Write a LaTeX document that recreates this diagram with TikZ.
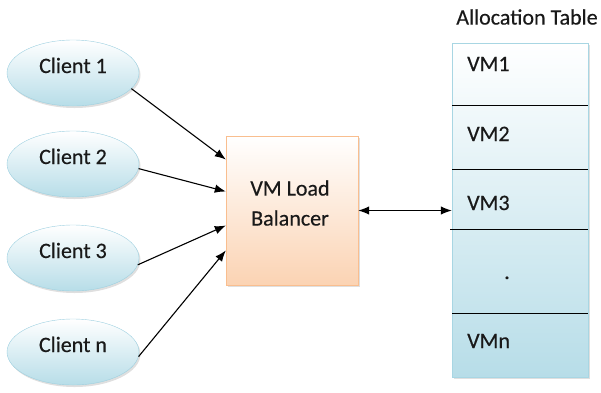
\documentclass[tikz,border=0pt]{standalone}
\usepackage{fontspec}
\setmainfont{Carlito}[FakeBold=0.4]
\usepackage{tikz}
\usetikzlibrary{shapes,arrows,arrows.meta,positioning,shadows}
\definecolor{cliblue}{HTML}{B7DDE8}
\definecolor{cliedge}{HTML}{9DD0E0}
\definecolor{lborange}{HTML}{FBD3B3}
\definecolor{lbedge}{HTML}{F9BE8F}
\definecolor{tabedge}{HTML}{A8D6E3}
\tikzstyle{client} = [ellipse, draw=cliedge, top color=white, bottom color=cliblue, minimum width=132pt, minimum height=66pt, text height=14pt, text depth=14pt, inner sep=0pt, font=\fontsize{22}{26}\selectfont, text=black!90, drop shadow={opacity=0.25, shadow xshift=1.5pt, shadow yshift=-2pt}]
\tikzstyle{lbox} = [rectangle, draw=lbedge, top color=white, bottom color=lborange, minimum width=132pt, minimum height=149pt, drop shadow={opacity=0.25, shadow xshift=1.5pt, shadow yshift=-2pt}]
\tikzstyle{tbox} = [rectangle, draw=tabedge, top color=white, bottom color=cliblue, minimum width=136pt, minimum height=334pt, drop shadow={opacity=0.25, shadow xshift=1.5pt, shadow yshift=-2pt}]
\tikzstyle{txt} = [inner sep=0pt, font=\fontsize{22}{30}\selectfont, text=black!90]
\tikzstyle{vm} = [txt, anchor=base west]
\tikzstyle{arrow} = [draw, line width=1.1pt, -{Latex[length=11pt,width=8.5pt]}]
\tikzstyle{darrow} = [draw, line width=1.1pt, {Latex[length=11pt,width=8.5pt]}-{Latex[length=11pt,width=8.5pt]}]
\tikzstyle{line} = [draw, line width=0.7pt]

\begin{document}
\begin{tikzpicture}[x=1pt, y=-1pt]
	\useasboundingbox (0,0) rectangle (601,392);
	\node [client] (c1) at (73, 73) {Client 1};
	\node [client] (c2) at (73, 164) {Client 2};
	\node [client] (c3) at (73, 258) {Client 3};
	\node [client] (cn) at (73, 352) {Client n};

	\node [lbox] (lb) at (292, 210.5) {};
	\node [txt, align=center] (lbtext) at (290, 203) {VM Load\\Balancer};

	\node [txt] (title) at (527, 17) {Allocation Table};
	\node [tbox] (alloc) at (520, 210) {};
	\path [line] (452, 105) -- (588, 105);
	\path [line] (452, 169) -- (588, 169);
	\path [line] (450, 229) -- (588, 229);
	\path [line] (452, 313) -- (588, 313);
	\node [vm] (vm1) at (467, 71) {VM1};
	\node [vm] (vm2) at (467, 141) {VM2};
	\node [vm] (vm3) at (467, 210) {VM3};
	\node [txt, anchor=base] (dots) at (507, 279) {.};
	\node [vm] (vmn) at (467, 348) {VMn};

	\path [arrow] (c1.-15) -- ([yshift=51pt]lb.west);
	\path [arrow] (c2.-4) -- ([yshift=19pt]lb.west);
	\path [arrow] (c3.-6) -- ([yshift=-15pt]lb.west);
	\path [arrow] (cn.-4) -- ([yshift=-40pt]lb.west);
	\path [darrow] (lb.east) -- (lb.east -| alloc.west);
\end{tikzpicture}
\end{document}
